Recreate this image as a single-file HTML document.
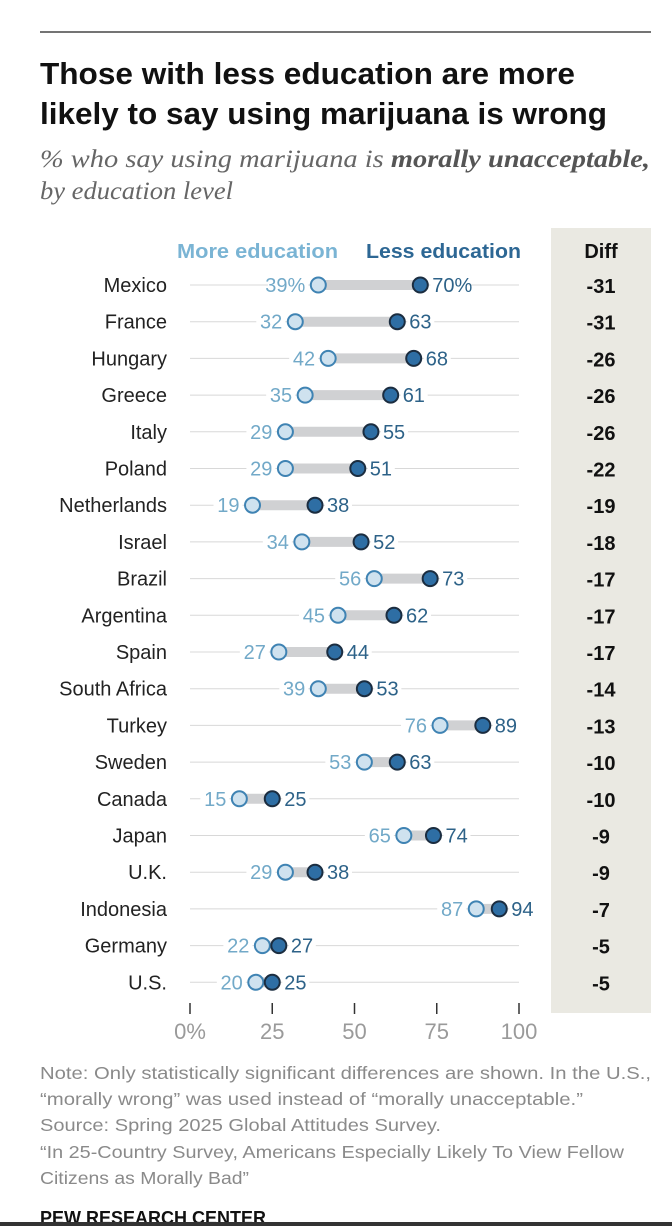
<!DOCTYPE html>
<html><head><meta charset="utf-8"><style>
html,body{margin:0;padding:0;background:#fff;width:672px;height:1226px;overflow:hidden}
svg{display:block}
</style></head><body>
<svg id="chart" width="672" height="1226" viewBox="0 0 672 1226" xmlns="http://www.w3.org/2000/svg">
<line x1="40" y1="32" x2="651" y2="32" stroke="#222" stroke-width="1.2"/>
<text x="40" y="84" font-family="'Liberation Sans',sans-serif" font-weight="bold" font-size="31" fill="#111" textLength="535" lengthAdjust="spacingAndGlyphs">Those with less education are more</text>
<text x="40" y="124" font-family="'Liberation Sans',sans-serif" font-weight="bold" font-size="31" fill="#111" textLength="567" lengthAdjust="spacingAndGlyphs">likely to say using marijuana is wrong</text>
<text x="40" y="167" font-family="'Liberation Serif',serif" font-style="italic" font-size="25" fill="#666" textLength="610" lengthAdjust="spacingAndGlyphs">% who say using marijuana is <tspan font-weight="bold" fill="#555">morally unacceptable,</tspan></text>
<text x="40" y="199" font-family="'Liberation Serif',serif" font-style="italic" font-size="25" fill="#666" textLength="193" lengthAdjust="spacingAndGlyphs">by education level</text>
<rect x="551" y="228" width="100" height="785" fill="#eae9e2"/>
<text x="601" y="258" text-anchor="middle" font-family="'Liberation Sans',sans-serif" font-weight="bold" font-size="20" fill="#111">Diff</text>
<text x="177" y="258" font-family="'Liberation Sans',sans-serif" font-weight="bold" font-size="20" fill="#7ab4d4" textLength="161" lengthAdjust="spacingAndGlyphs">More education</text>
<text x="366" y="258" font-family="'Liberation Sans',sans-serif" font-weight="bold" font-size="20" fill="#2d6794" textLength="155" lengthAdjust="spacingAndGlyphs">Less education</text>
<g id="rows"></g>
<g id="axis"></g>
<g font-family="'Liberation Sans',sans-serif" font-size="17.5" fill="#8a8a8a">
<text x="40" y="1079" textLength="611" lengthAdjust="spacingAndGlyphs">Note: Only statistically significant differences are shown. In the U.S.,</text>
<text x="40" y="1105" textLength="543" lengthAdjust="spacingAndGlyphs">“morally wrong” was used instead of “morally unacceptable.”</text>
<text x="40" y="1131" textLength="401" lengthAdjust="spacingAndGlyphs">Source: Spring 2025 Global Attitudes Survey.</text>
<text x="40" y="1158" textLength="584" lengthAdjust="spacingAndGlyphs">“In 25-Country Survey, Americans Especially Likely To View Fellow</text>
<text x="40" y="1184" textLength="209" lengthAdjust="spacingAndGlyphs">Citizens as Morally Bad”</text>
</g>
<text x="40" y="1224" font-family="'Liberation Sans',sans-serif" font-weight="bold" font-size="18" fill="#111" textLength="226" lengthAdjust="spacingAndGlyphs">PEW RESEARCH CENTER</text>
<rect x="0" y="1222" width="672" height="4" fill="#333"/>
</svg>
<script>
const countries=["Mexico","France","Hungary","Greece","Italy","Poland","Netherlands","Israel","Brazil","Argentina","Spain","South Africa","Turkey","Sweden","Canada","Japan","U.K.","Indonesia","Germany","U.S."];
const moreEdu=[39,32,42,35,29,29,19,34,56,45,27,39,76,53,15,65,29,87,22,20];
const lessEdu=[70,63,68,61,55,51,38,52,73,62,44,53,89,63,25,74,38,94,27,25];
const diffs=[-31,-31,-26,-26,-26,-22,-19,-18,-17,-17,-17,-14,-13,-10,-10,-9,-9,-7,-5,-5];
const ticks=[0,25,50,75,100];
const NS="http://www.w3.org/2000/svg";
const x=v=>190+v*3.29;
const y=i=>285+i*36.7;
const FONT="'Liberation Sans',sans-serif";
function mk(tag,attrs,parent,txt){const e=document.createElementNS(NS,tag);for(const k in attrs)e.setAttribute(k,attrs[k]);if(txt!==undefined)e.textContent=txt;parent.appendChild(e);return e;}
const rows=document.getElementById('rows');
countries.forEach((c,i)=>{
  const g=mk('g',{},rows);
  
  
  const yy=y(i);
  const t=mk('text',{x:167,y:yy+7,'text-anchor':'end','font-family':FONT,'font-size':20,fill:'#222'},g,c);
  
  
  const gl=mk('line',{x1:190,x2:519,y1:yy,y2:yy,stroke:'#d8d8d8','stroke-width':1},g);
  
  
  const b=mk('line',{x1:x(moreEdu[i]),x2:x(lessEdu[i]),y1:yy,y2:yy,stroke:'#d0d1d3','stroke-width':10},g);
  
  
  const sfx=i===0?'%':'';
  const lt=String(moreEdu[i])+sfx, dt=String(lessEdu[i])+sfx;
  const lw=lt.length*11.5+4, dw=dt.length*11.5+4;
  mk('rect',{x:x(moreEdu[i])-12-lw,y:yy-10,width:lw+2,height:20,fill:'#fff'},g);
  mk('rect',{x:x(lessEdu[i])+10,y:yy-10,width:dw,height:20,fill:'#fff'},g);
  const l1=mk('text',{x:x(moreEdu[i])-13,y:yy+7,'text-anchor':'end','font-family':FONT,'font-size':20,fill:'#72a9c8'},g,lt);
  
  
  const l2=mk('text',{x:x(lessEdu[i])+12,y:yy+7,'font-family':FONT,'font-size':20,fill:'#2d6288'},g,dt);
  
  
  const d1=mk('circle',{cx:x(moreEdu[i]),cy:yy,r:7.5,fill:'#cfe2ef',stroke:'#3f83b3','stroke-width':2},g);
  
  
  const d2=mk('circle',{cx:x(lessEdu[i]),cy:yy,r:7.5,fill:'#2e6ea4',stroke:'#1b2d40','stroke-width':2},g);
  
  
  const dv=mk('text',{x:601,y:yy+8,'text-anchor':'middle','font-family':FONT,'font-weight':'bold','font-size':20,fill:'#111'},g,String(diffs[i]));
  
  
});
const axis=document.getElementById('axis');
ticks.forEach((t,i)=>{
  const tl=mk('line',{x1:x(t),x2:x(t),y1:1003,y2:1014,stroke:'#333','stroke-width':1.5},axis);
  
  
  const tx=mk('text',{x:x(t),y:1039,'text-anchor':'middle','font-family':FONT,'font-size':22,fill:'#9a9a9a'},axis,t+(i===0?'%':''));
  
  
});
</script>
</body></html>
